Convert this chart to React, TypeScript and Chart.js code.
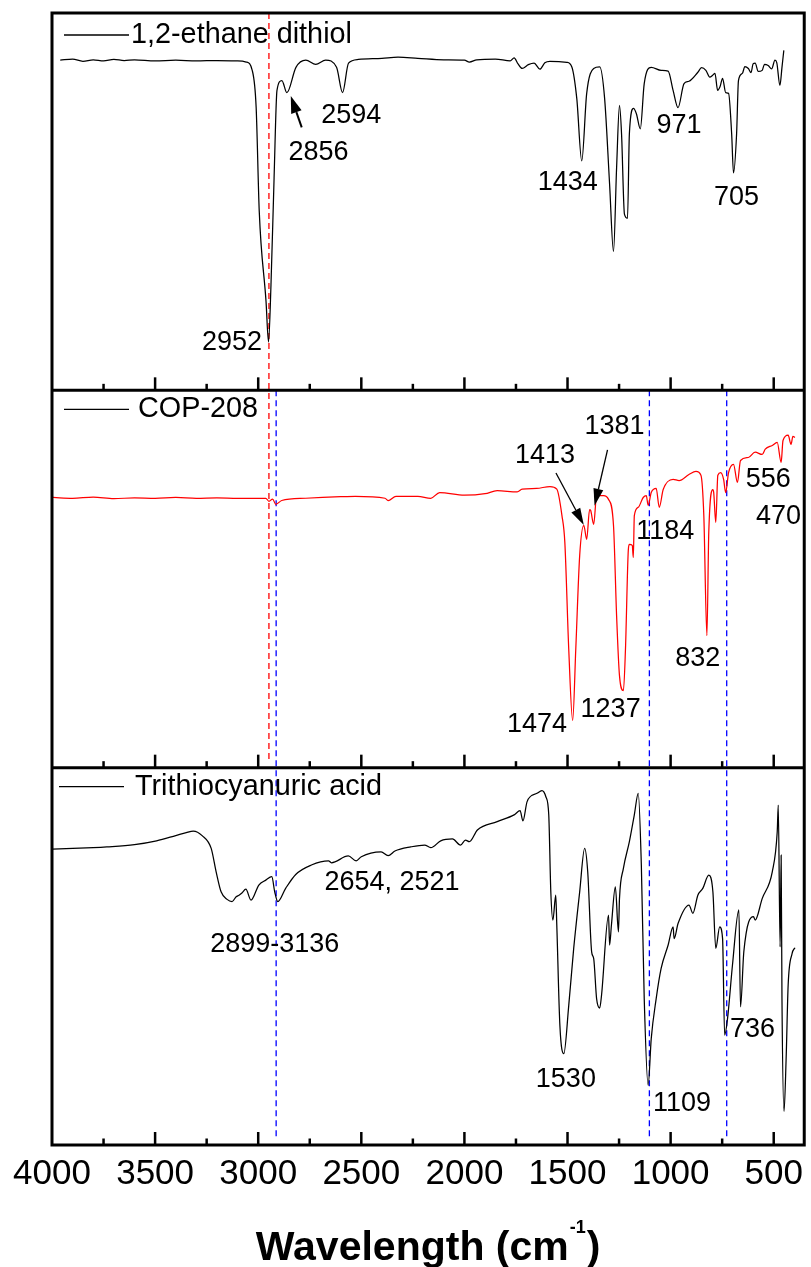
import React, { useEffect, useRef } from 'react';
import { Chart, registerables } from 'chart.js';

Chart.register(...registerables);

// ---------------- data (wavenumber in cm-1, relative transmittance 0-100 within each panel) ----------------
const SERIES_NAMES = ['1,2-ethane dithiol', 'COP-208', 'Trithiocyanuric acid'];

const DITHIOL_WAVE = [
  3960, 3900, 3850, 3800, 3750, 3700, 3650, 3600, 3500, 3400, 3300, 3200, 3100, 3058, 3029, 3010, 2995, 2962,
  2950, 2938, 2923, 2909, 2885, 2861, 2817, 2769, 2721, 2673, 2620, 2591, 2562, 2514, 2400, 2322, 2226, 2100,
  2000, 1976, 1940, 1850, 1778, 1759, 1740, 1720, 1690, 1662, 1634, 1610, 1585, 1503, 1479, 1455, 1431, 1407,
  1373, 1344, 1320, 1296, 1277, 1262, 1248, 1238, 1224, 1209, 1200, 1180, 1166, 1147, 1128, 1094, 1046, 1012,
  988, 964, 935, 911, 868, 850, 829, 810, 796, 785, 772, 760, 748, 733, 719, 704, 695, 680, 671, 652, 640, 623,
  610, 600, 590, 575, 556, 545, 527, 510, 494, 485, 470, 460, 451,
];
const DITHIOL_T = [
  87.5, 87.8, 87.2, 87.6, 87.3, 87.7, 87.4, 87.6, 87.3, 87.5, 87.3, 87.4, 87.3, 87.0, 84.8, 75.0, 47.5, 23.5,
  12.8, 28.0, 56.3, 79.5, 82.1, 78.9, 85.6, 87.5, 86.4, 87.5, 85.6, 78.9, 86.7, 87.7, 88.0, 88.3, 88.0, 87.6,
  87.5, 87.0, 87.6, 87.8, 87.3, 88.1, 86.5, 85.3, 86.3, 86.7, 85.1, 86.8, 87.2, 86.9, 85.7, 77.3, 60.8, 78.7,
  85.3, 85.7, 77.3, 54.7, 36.8, 58.9, 75.5, 68.0, 46.7, 45.6, 68.0, 74.7, 73.3, 69.3, 81.3, 85.6, 84.8, 84.6,
  79.5, 74.9, 81.3, 81.9, 84.3, 85.5, 84.8, 83.0, 83.5, 84.0, 79.5, 80.5, 82.7, 78.9, 78.7, 68.0, 57.6, 68.0,
  82.1, 84.0, 85.8, 85.3, 84.2, 86.5, 86.7, 84.5, 84.8, 86.4, 86.1, 85.2, 87.5, 86.8, 80.8, 85.6, 90.1,
];

const COP_WAVE = [
  3995, 3900, 3800, 3700, 3600, 3500, 3400, 3300, 3200, 3100, 2963, 2948, 2930, 2915, 2886, 2770, 2600, 2529,
  2385, 2370, 2332, 2226, 2163, 2120, 2000, 1900, 1841, 1744, 1720, 1650, 1585, 1552, 1527, 1513, 1494, 1475,
  1460, 1441, 1421, 1407, 1393, 1388, 1373, 1359, 1325, 1301, 1277, 1262, 1248, 1229, 1219, 1205, 1200, 1186,
  1181, 1176, 1157, 1133, 1118, 1109, 1094, 1070, 1055, 1036, 988, 959, 911, 877, 853, 839, 824, 815, 795, 791,
  781, 771, 757, 743, 733, 719, 695, 676, 661, 623, 590, 556, 541, 507, 483, 464, 455, 430, 416, 407, 397,
];
const COP_T = [
  71.6, 71.4, 71.7, 71.3, 71.5, 71.4, 71.6, 71.4, 71.5, 71.4, 71.4, 70.6, 71.2, 69.8, 70.8, 71.4, 71.8, 71.9,
  71.4, 70.8, 71.9, 71.9, 71.4, 72.9, 72.2, 72.6, 73.4, 73.1, 73.8, 74.0, 74.5, 73.8, 66.8, 59.7, 31.3, 12.5,
  31.3, 56.2, 64.2, 60.5, 68.4, 68.2, 64.5, 72.1, 72.1, 71.1, 64.2, 40.3, 24.4, 20.4, 31.3, 57.8, 59.2, 58.9,
  55.7, 66.8, 69.0, 71.6, 72.1, 69.5, 72.9, 74.0, 69.0, 73.7, 76.4, 76.1, 77.7, 78.5, 77.5, 66.8, 35.0, 62.3,
  73.7, 72.9, 65.0, 77.5, 78.2, 76.4, 72.9, 78.2, 80.4, 75.6, 81.4, 82.2, 83.6, 83.0, 84.4, 85.4, 86.2, 80.9,
  86.7, 88.1, 85.7, 87.8, 87.5,
];

const TCA_WAVE = [
  3999, 3900, 3800, 3734, 3600, 3493, 3400, 3349, 3315, 3272, 3228, 3204, 3180, 3151, 3127, 3107, 3093, 3079,
  3060, 3035, 2997, 2963, 2934, 2920, 2905, 2867, 2818, 2742, 2659, 2645, 2563, 2525, 2500, 2404, 2370, 2337,
  2260, 2193, 2163, 2115, 2058, 2019, 1995, 1976, 1937, 1841, 1759, 1730, 1716, 1696, 1648, 1624, 1605, 1591,
  1581, 1571, 1557, 1552, 1537, 1518, 1494, 1470, 1441, 1417, 1402, 1383, 1373, 1359, 1344, 1335, 1301, 1296,
  1287, 1268, 1253, 1248, 1229, 1200, 1176, 1157, 1142, 1128, 1109, 1094, 1070, 1046, 1012, 988, 983, 964, 911,
  892, 868, 844, 815, 795, 781, 762, 748, 738, 724, 700, 669, 661, 645, 598, 590, 556, 507, 483, 478, 469, 464,
  460, 450, 440, 430, 411, 397,
];
const TCA_T = [
  78.4, 78.6, 78.8, 79.0, 79.6, 80.6, 82.0, 82.8, 83.2, 82.0, 78.6, 72.4, 67.1, 65.1, 64.5, 65.8, 66.2, 66.8,
  67.8, 64.9, 68.9, 70.2, 71.1, 67.1, 64.5, 68.0, 71.7, 74.2, 75.3, 74.8, 76.6, 75.3, 76.4, 77.7, 76.7, 77.9,
  79.0, 79.5, 78.8, 80.6, 81.1, 79.5, 80.8, 80.4, 83.5, 85.7, 87.5, 88.6, 85.9, 91.0, 93.2, 93.9, 92.3, 87.5,
  67.1, 59.6, 66.2, 58.3, 31.7, 24.2, 37.0, 52.1, 67.1, 78.6, 72.4, 51.2, 49.4, 38.8, 36.3, 39.7, 60.9, 53.0,
  58.3, 68.4, 56.5, 65.3, 73.3, 80.4, 87.5, 93.2, 74.2, 38.8, 15.8, 28.2, 38.8, 46.8, 53.0, 57.8, 54.7, 58.7, 63.6,
  61.4, 66.2, 68.0, 71.5, 67.1, 52.1, 57.8, 54.7, 29.1, 33.5, 47.7, 62.3, 36.6, 51.2, 60.5, 59.6, 65.3, 72.4, 83.0,
  90.1, 52.5, 76.8, 38.8, 8.9, 22.5, 42.4, 50.7, 52.3,
];

const PANEL_OFFSETS = [200, 100, 0];
const X_TICKS = [4000, 3500, 3000, 2500, 2000, 1500, 1000, 500];
const X_MINOR_TICKS = [3750, 3250, 2750, 2250, 1750, 1250, 750];
const RED_REF_LINES = [2948];
const BLUE_REF_LINES = [2913, 1103, 728];

// peak labels: text, wavenumber, stacked y value
const PEAK_LABELS: [string, number, number][] = [
  ['2952', 3127, 212.7],
  ['2856', 2708, 263.1],
  ['2594', 2549, 272.9],
  ['1434', 1499, 255.1],
  ['971', 959, 270.3],
  ['705', 680, 251.1],
  ['1413', 1609, 182.7],
  ['1381', 1272, 190.4],
  ['1184', 1026, 162.7],
  ['556', 526, 176.3],
  ['470', 477, 166.5],
  ['832', 868, 128.8],
  ['1237', 1291, 115.5],
  ['1474', 1648, 111.5],
  ['2899-3136', 2920, 53.1],
  ['2654, 2521', 2351, 69.6],
  ['1530', 1508, 17.3],
  ['1109', 945, 10.9],
  ['736', 603, 30.5],
];
// arrows: tail wavenumber, tail y, tip wavenumber, tip y
const ARROWS: [number, number, number, number][] = [
  [2789, 269.7, 2842, 278.0],
  [1556, 178.1, 1421, 164.3],
  [1306, 184.2, 1369, 169.4],
];

const FONT = '"Liberation Sans", Arial, Helvetica, sans-serif';

function drawArrow(ctx: CanvasRenderingContext2D, x1: number, y1: number, x2: number, y2: number, lw: number, headLen: number, headW: number) {
  const ang = Math.atan2(y2 - y1, x2 - x1);
  const bx = x2 - headLen * Math.cos(ang);
  const by = y2 - headLen * Math.sin(ang);
  ctx.lineWidth = lw;
  ctx.beginPath();
  ctx.moveTo(x1, y1);
  ctx.lineTo(bx, by);
  ctx.stroke();
  ctx.beginPath();
  ctx.moveTo(x2, y2);
  ctx.lineTo(bx + (headW / 2) * Math.sin(ang), by - (headW / 2) * Math.cos(ang));
  ctx.lineTo(bx - (headW / 2) * Math.sin(ang), by + (headW / 2) * Math.cos(ang));
  ctx.closePath();
  ctx.fill();
}

const decorPlugin = {
  id: 'decor',
  beforeDatasetsDraw(chart: any) {
    const { ctx, scales } = chart;
    const x = scales.x;
    const y = scales.y;
    ctx.save();
    ctx.lineWidth = 1.3;
    ctx.setLineDash([6, 4]);
    ctx.strokeStyle = '#ff0000';
    for (const w of RED_REF_LINES) {
      const px = x.getPixelForValue(w);
      ctx.beginPath();
      ctx.moveTo(px, y.getPixelForValue(300));
      ctx.lineTo(px, y.getPixelForValue(100) - 6);
      ctx.stroke();
    }
    ctx.strokeStyle = '#0000ff';
    for (const w of BLUE_REF_LINES) {
      const px = x.getPixelForValue(w);
      ctx.beginPath();
      ctx.moveTo(px, y.getPixelForValue(200));
      ctx.lineTo(px, y.getPixelForValue(0) - 8);
      ctx.stroke();
    }
    ctx.restore();
  },
  afterDatasetsDraw(chart: any) {
    const { ctx, chartArea: a, scales } = chart;
    const x = scales.x;
    const y = scales.y;
    ctx.save();
    ctx.strokeStyle = '#000';
    ctx.fillStyle = '#000';
    ctx.setLineDash([]);

    // panel frames
    ctx.lineWidth = 3;
    ctx.strokeRect(a.left, a.top, a.right - a.left, a.bottom - a.top);
    for (const v of [200, 100]) {
      const py = y.getPixelForValue(v);
      ctx.beginPath();
      ctx.moveTo(a.left, py);
      ctx.lineTo(a.right, py);
      ctx.stroke();
    }

    // inward ticks at the bottom of each panel
    ctx.lineWidth = 2.5;
    for (const v of PANEL_OFFSETS) {
      const py = y.getPixelForValue(v);
      for (const w of X_TICKS) {
        if (w === 4000) continue;
        const px = x.getPixelForValue(w);
        ctx.beginPath();
        ctx.moveTo(px, py);
        ctx.lineTo(px, py - 13);
        ctx.stroke();
      }
      for (const w of X_MINOR_TICKS) {
        const px = x.getPixelForValue(w);
        ctx.beginPath();
        ctx.moveTo(px, py);
        ctx.lineTo(px, py - 6.5);
        ctx.stroke();
      }
    }

    // panel legends
    const legendLayout = [
      { x0: 64, x1: 129, tx: 131, dy: 22 },
      { x0: 64, x1: 129, tx: 138, dy: 19 },
      { x0: 59, x1: 124, tx: 135, dy: 19 },
    ];
    ctx.font = `28.8px ${FONT}`;
    ctx.textBaseline = 'middle';
    ctx.textAlign = 'left';
    SERIES_NAMES.forEach((name, i) => {
      const top = y.getPixelForValue(PANEL_OFFSETS[i] + 100);
      const L = legendLayout[i];
      const ly = top + L.dy;
      ctx.lineWidth = 1.3;
      ctx.beginPath();
      ctx.moveTo(L.x0, ly);
      ctx.lineTo(L.x1, ly);
      ctx.stroke();
      ctx.fillText(name, L.tx, ly);
    });

    // peak labels
    ctx.font = `27px ${FONT}`;
    ctx.textAlign = 'center';
    ctx.textBaseline = 'middle';
    for (const [t, w, v] of PEAK_LABELS) {
      ctx.fillText(t, x.getPixelForValue(w), y.getPixelForValue(v));
    }

    // arrows
    ARROWS.forEach(([w1, v1, w2, v2], i) => {
      const big = i === 0;
      drawArrow(
        ctx,
        x.getPixelForValue(w1), y.getPixelForValue(v1),
        x.getPixelForValue(w2), y.getPixelForValue(v2),
        big ? 2 : 1.3, 17, big ? 11 : 10,
      );
    });

    // x-axis title with superscript
    const main = 'Wavelength (cm';
    const sup = '-1';
    const close = ')';
    ctx.textAlign = 'left';
    ctx.textBaseline = 'alphabetic';
    ctx.font = `bold 41px ${FONT}`;
    const wMain = ctx.measureText(main).width;
    const wClose = ctx.measureText(close).width;
    ctx.font = `bold 18px ${FONT}`;
    const wSup = ctx.measureText(sup).width;
    const total = wMain + wSup + wClose + 2;
    const cx = (a.left + a.right) / 2;
    const baseY = a.bottom + 115;
    let sx = cx - total / 2;
    ctx.font = `bold 41px ${FONT}`;
    ctx.fillText(main, sx, baseY);
    sx += wMain + 1;
    ctx.font = `bold 18px ${FONT}`;
    ctx.fillText(sup, sx, baseY - 27);
    sx += wSup + 1;
    ctx.font = `bold 41px ${FONT}`;
    ctx.fillText(close, sx, baseY);

    ctx.restore();
  },
};

export default function App() {
  const canvasRef = useRef<HTMLCanvasElement | null>(null);

  useEffect(() => {
    const canvas = canvasRef.current;
    if (!canvas) return;
    const spectra = [
      { name: SERIES_NAMES[0], w: DITHIOL_WAVE, t: DITHIOL_T, color: '#000000', offset: PANEL_OFFSETS[0] },
      { name: SERIES_NAMES[1], w: COP_WAVE, t: COP_T, color: '#ff0000', offset: PANEL_OFFSETS[1] },
      { name: SERIES_NAMES[2], w: TCA_WAVE, t: TCA_T, color: '#000000', offset: PANEL_OFFSETS[2] },
    ];
    const chart = new Chart(canvas, {
      type: 'line',
      data: {
        datasets: spectra.map((s) => ({
          label: s.name,
          data: s.w.map((w, i) => ({ x: w, y: s.t[i] + s.offset })),
          borderColor: s.color,
          borderWidth: 1.25,
          pointRadius: 0,
          cubicInterpolationMode: 'monotone',
          fill: false,
        })),
      },
      options: {
        animation: false,
        responsive: false,
        maintainAspectRatio: false,
        layout: { padding: { left: 52, right: 2, top: 13, bottom: 64 } },
        plugins: {
          legend: { display: false },
          tooltip: { enabled: false },
          title: { display: false },
        },
        scales: {
          x: {
            type: 'linear',
            reverse: true,
            min: 352,
            max: 4000,
            afterBuildTicks: (axis: any) => {
              axis.ticks = X_TICKS.map((v) => ({ value: v }));
            },
            grid: { display: false, drawTicks: false },
            border: { display: false },
            ticks: {
              font: { family: FONT, size: 35 },
              color: '#000',
              padding: 8,
              maxRotation: 0,
              autoSkip: false,
              callback: (v: any) => String(v),
            },
          },
          y: { display: false, min: 0, max: 300 },
        },
      },
      plugins: [decorPlugin],
    } as any);
    return () => chart.destroy();
  }, []);

  return (
    <div style={{ position: 'absolute', left: 0, top: 0, width: 811, height: 1267, background: '#fff' }}>
      <canvas ref={canvasRef} width={811} height={1267} style={{ width: 811, height: 1267, display: 'block' }} />
    </div>
  );
}
